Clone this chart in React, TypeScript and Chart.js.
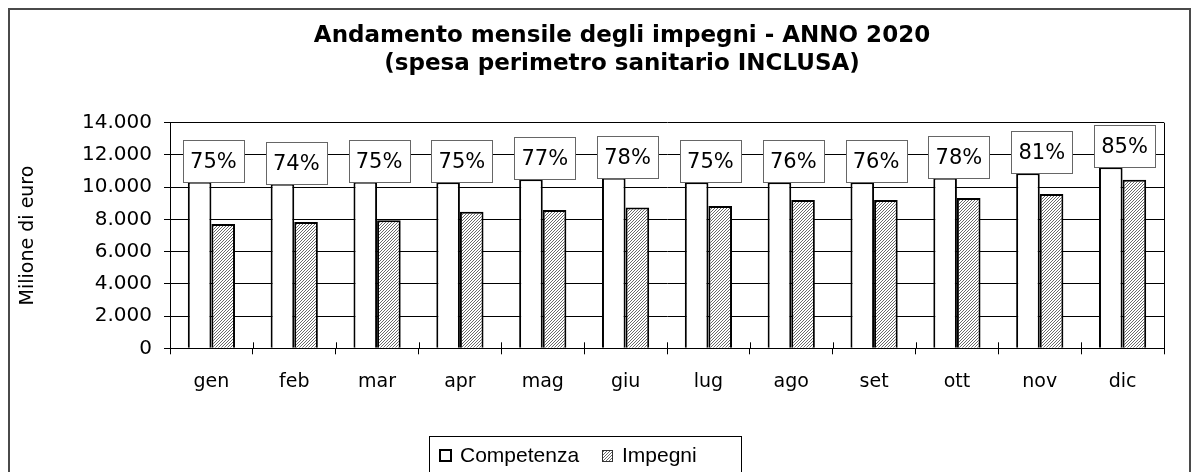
import React, { useEffect, useRef } from 'react';
import { Chart, registerables } from 'chart.js';

Chart.register(...registerables);

const months = ['gen', 'feb', 'mar', 'apr', 'mag', 'giu', 'lug', 'ago', 'set', 'ott', 'nov', 'dic'];
const competenza = [10340, 10210, 10340, 10300, 10490, 10590, 10300, 10300, 10300, 10590, 10860, 11230];
const impegni = [7710, 7840, 7940, 8480, 8580, 8730, 8830, 9200, 9200, 9330, 9580, 10460];
const percentuali = [75, 74, 75, 75, 77, 78, 75, 76, 76, 78, 81, 85];
const titleLines = ['Andamento mensile degli impegni - ANNO 2020', '(spesa perimetro sanitario INCLUSA)'];
const seriesNames = ['Competenza', 'Impegni'];
const yAxisTitle = 'Milione di euro';
const yMax = 14000;
const yStep = 2000;

const fmt = (v: number) => (v === 0 ? '0' : String(v).replace(/\B(?=(\d{3})+(?!\d))/g, '.'));

function makeHatch(): CanvasPattern | string {
  const c = document.createElement('canvas');
  c.width = 3;
  c.height = 3;
  const g = c.getContext('2d');
  if (!g) return '#bbbbbb';
  g.fillStyle = '#ffffff';
  g.fillRect(0, 0, 3, 3);
  g.fillStyle = '#6a6a6a';
  // pixel diagonal "/" line
  g.fillRect(2, 0, 1, 1);
  g.fillRect(1, 1, 1, 1);
  g.fillRect(0, 2, 1, 1);
  return g.createPattern(c, 'repeat') || '#bbbbbb';
}

const decorPlugin = {
  id: 'decor',
  afterDraw(chart: any) {
    const ctx = chart.ctx as CanvasRenderingContext2D;
    const area = chart.chartArea;
    const xs = chart.scales.x;
    ctx.save();
    // right border of plot area
    ctx.strokeStyle = '#000';
    ctx.lineWidth = 1;
    ctx.beginPath();
    ctx.moveTo(Math.round(area.right) + 0.5, area.top);
    ctx.lineTo(Math.round(area.right) + 0.5, area.bottom);
    ctx.stroke();
    // inner tick marks on x axis
    const n = months.length;
    const w = (area.right - area.left) / n;
    ctx.beginPath();
    for (let i = 1; i < n; i++) {
      const x = Math.round(area.left + i * w) + 0.5;
      ctx.moveTo(x, area.bottom);
      ctx.lineTo(x, area.bottom - 6);
    }
    ctx.stroke();

    // percent labels
    const meta = chart.getDatasetMeta(0);
    ctx.font = '21px "DejaVu Sans"';
    ctx.textAlign = 'center';
    ctx.textBaseline = 'middle';
    meta.data.forEach((bar: any, i: number) => {
      const cx = xs.getPixelForValue(i) + 2;
      const bottom = bar.y;
      const bw = 61;
      const bh = 42;
      const x0 = Math.round(cx - bw / 2) + 0.5;
      const y0 = Math.round(bottom - bh) + 0.5;
      ctx.fillStyle = '#fff';
      ctx.fillRect(x0, y0, bw, bh);
      ctx.strokeStyle = '#666';
      ctx.lineWidth = 1;
      ctx.strokeRect(x0, y0, bw, bh);
      ctx.fillStyle = '#000';
      ctx.fillText(percentuali[i] + '%', cx, y0 + bh / 2 + 1);
    });

    // title
    ctx.font = 'bold 23px "DejaVu Sans"';
    ctx.textAlign = 'center';
    ctx.textBaseline = 'alphabetic';
    ctx.fillStyle = '#000';
    ctx.fillText(titleLines[0], 612, 32);
    ctx.fillText(titleLines[1], 612, 60);

    // legend
    const lx = 419.5;
    const ly = 426.5;
    ctx.strokeStyle = '#000';
    ctx.lineWidth = 1;
    ctx.strokeRect(lx, ly, 312, 60);
    const ds = chart.data.datasets;
    ctx.font = '21px "Liberation Sans"';
    ctx.textAlign = 'left';
    ctx.textBaseline = 'alphabetic';
    // Competenza swatch
    ctx.fillStyle = ds[0].backgroundColor;
    ctx.fillRect(430, 440, 11, 11);
    ctx.lineWidth = 2;
    ctx.strokeStyle = '#000';
    ctx.strokeRect(430, 440, 11, 11);
    ctx.fillStyle = '#000';
    ctx.fillText(seriesNames[0], 450, 452);
    // Impegni swatch
    ctx.fillStyle = ds[1].backgroundColor;
    ctx.fillRect(592, 440, 10, 11);
    ctx.lineWidth = 1;
    ctx.strokeStyle = '#333';
    ctx.strokeRect(592.5, 440.5, 10, 11);
    ctx.fillStyle = '#000';
    ctx.fillText(seriesNames[1], 612, 452);
    ctx.restore();
  },
};

export default function App() {
  const canvasRef = useRef<HTMLCanvasElement | null>(null);

  useEffect(() => {
    document.documentElement.style.overflow = 'hidden';
    document.body.style.overflow = 'hidden';
    const canvas = canvasRef.current;
    if (!canvas) return;
    const hatch = makeHatch();
    const chart = new Chart(canvas, {
      type: 'bar',
      data: {
        labels: months,
        datasets: [
          {
            label: seriesNames[0],
            data: competenza,
            backgroundColor: '#ffffff',
            borderColor: '#000000',
            borderWidth: 2,
            categoryPercentage: 0.57,
            barPercentage: 1,
          },
          {
            label: seriesNames[1],
            data: impegni,
            backgroundColor: hatch as any,
            borderColor: '#000000',
            borderWidth: 2,
            categoryPercentage: 0.57,
            barPercentage: 1,
          },
        ],
      },
      options: {
        animation: false,
        responsive: true,
        maintainAspectRatio: false,
        layout: { padding: { left: 0, right: 25, top: 112.7, bottom: 69.7 } },
        plugins: {
          legend: { display: false },
          title: { display: false },
          tooltip: { enabled: false },
        },
        scales: {
          x: {
            grid: {
              offset: true,
              drawOnChartArea: false,
              drawTicks: true,
              tickLength: 6,
              color: '#000',
              lineWidth: 1,
            },
            border: { display: true, color: '#000', width: 1 },
            ticks: {
              color: '#000',
              font: { family: '"DejaVu Sans"', size: 19 },
              padding: 16,
              maxRotation: 0,
            },
            afterFit: (s: any) => {
              s.height = 60;
            },
          },
          y: {
            min: 0,
            max: yMax,
            ticks: {
              stepSize: yStep,
              color: '#000',
              font: { family: '"DejaVu Sans"', size: 20 },
              padding: 12,
              callback: (v: any) => fmt(Number(v)),
            },
            grid: { color: '#000', lineWidth: 1, tickLength: 6, drawTicks: true },
            border: { display: true, color: '#000', width: 1 },
            title: {
              display: true,
              text: yAxisTitle,
              color: '#000',
              font: { family: '"DejaVu Sans"', size: 19 },
              padding: { top: 7, bottom: 0 },
            },
            afterFit: (s: any) => {
              s.width = 160;
            },
          },
        },
      },
      plugins: [decorPlugin],
    });
    return () => chart.destroy();
  }, []);

  return (
    <div
      style={{
        position: 'relative',
        width: 1183,
        height: 470,
        boxSizing: 'border-box',
        borderTop: '2px solid #4a4a4a',
        borderLeft: '2px solid #4a4a4a',
        borderRight: '2px solid #4a4a4a',
        background: '#fff',
      }}
    >
      <div style={{ position: 'relative', width: 1179, height: 468 }}>
        <canvas ref={canvasRef} />
      </div>
    </div>
  );
}
